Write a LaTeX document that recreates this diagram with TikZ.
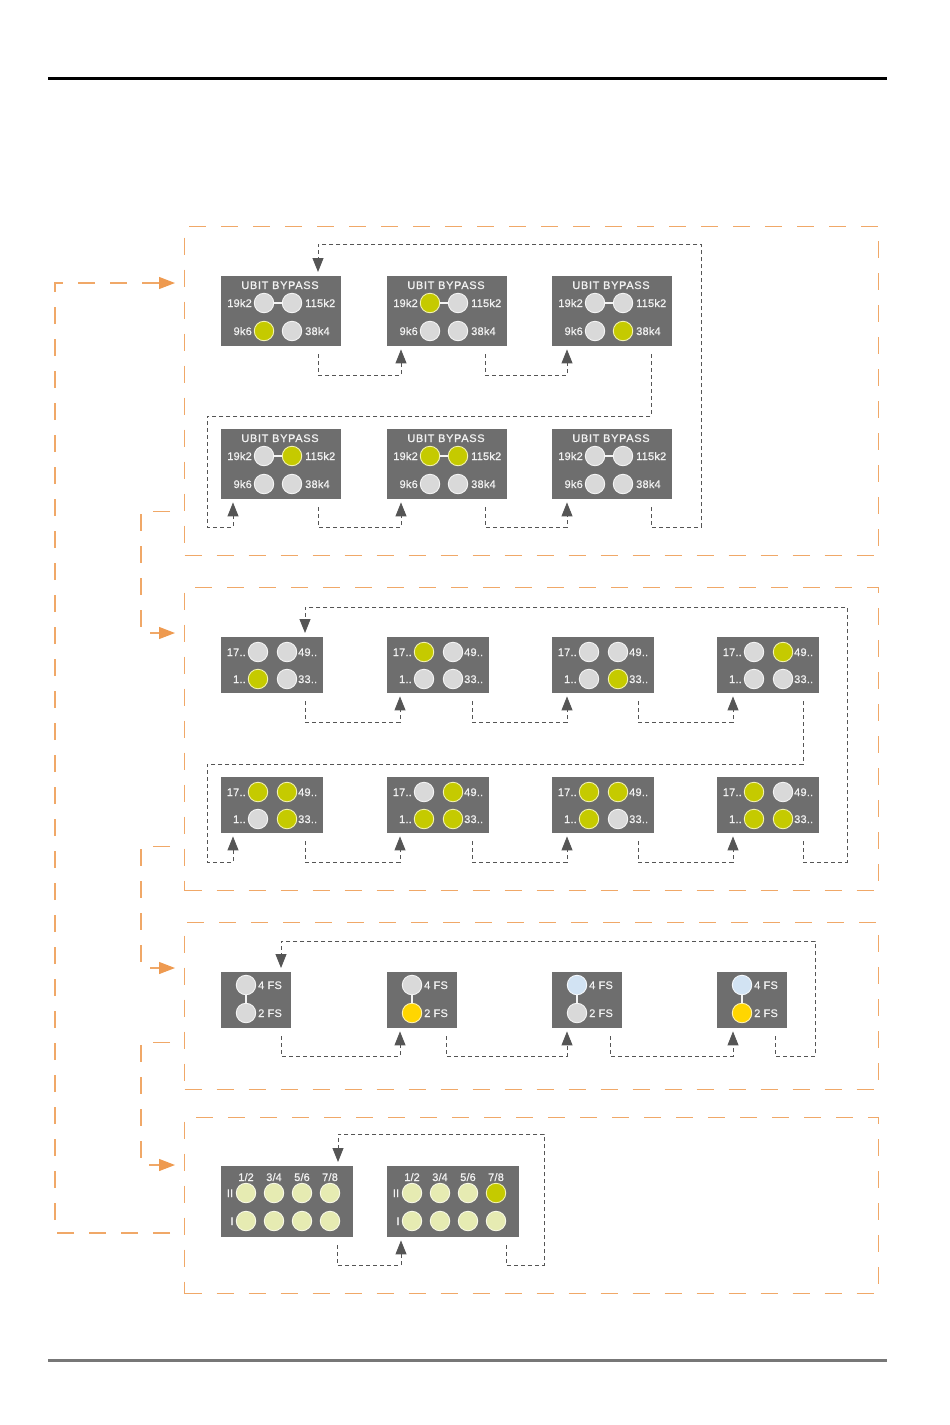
\documentclass[tikz,border=0pt]{standalone}
\usepackage{fontspec}
\setmainfont{Liberation Sans}
\newfontfamily\lblfont[FakeBold=0.6,LetterSpace=2]{Liberation Sans}
\newfontfamily\titlefont[FakeBold=0.6,LetterSpace=6]{Liberation Sans}
\usetikzlibrary{arrows.meta,calc}
\definecolor{panelgray}{HTML}{6E6E6E}
\definecolor{txtcol}{HTML}{F2F2F2}
\definecolor{conncol}{HTML}{555555}
\definecolor{orline}{HTML}{F0A868}
\definecolor{orhead}{HTML}{EE9A50}
\definecolor{ledf0}{HTML}{D9D9D9}
\definecolor{ledr0}{HTML}{F4F4F4}
\definecolor{ledf1}{HTML}{C5CA00}
\definecolor{ledr1}{HTML}{F2F2B0}
\definecolor{ledf2}{HTML}{FFD600}
\definecolor{ledr2}{HTML}{FFF3B0}
\definecolor{ledf3}{HTML}{D2E3F3}
\definecolor{ledr3}{HTML}{F4F8FC}
\definecolor{ledf4}{HTML}{E6EBB2}
\definecolor{ledr4}{HTML}{F8F9E6}
\begin{document}
\begin{tikzpicture}[x=1pt,y=-1pt,
  panel/.style={fill=panelgray,draw=none,inner sep=0,anchor=north west},
  led/.style={circle,inner sep=0,minimum size=19.5pt,line width=0.9pt},
  lbl/.style={text=txtcol,font=\lblfont\fontsize{11}{13}\selectfont,inner sep=0,text height=8pt,text depth=0pt},
  ttl/.style={lbl,font=\titlefont\fontsize{11}{13}\selectfont},
  link/.style={draw=ledr0,line width=1.4pt},
  conn/.style={draw=conncol,line width=0.9pt,dash pattern=on 4pt off 3pt},
  arr/.style={-{Triangle[length=14pt,width=11pt,color=conncol]}},
  section/.style={draw=orline,line width=1.2pt,dash pattern=on 17pt off 15pt,anchor=north west,inner sep=0,minimum width=694pt},
  oconn/.style={draw=orline,line width=1.2pt,dash pattern=on 17pt off 15pt},
  oarr/.style={-{Triangle[length=16pt,width=12pt,color=orhead]}}
]
\useasboundingbox (0,0) rectangle (950,1425);

% rules
\draw[line width=3pt,black] (48,78) -- (887,78);
\draw[line width=3pt,color={rgb,255:red,119;green,119;blue,119}] (48,1360) -- (887,1360);

% sections
\node[section,minimum height=329pt] (sec1) at (184,226) {};
\node[section,minimum height=303pt] (sec2) at (184,587) {};
\node[section,minimum height=167pt] (sec3) at (184,922) {};
\node[section,minimum height=176pt] (sec4) at (184,1117) {};

% ---------- section 1 ----------
\foreach \i/\L/\T/\a/\b/\c/\d in {1/221/276/0/0/1/0, 2/387/276/1/0/0/0, 3/552/276/0/0/0/1,
                                 4/221/429/0/1/0/0, 5/387/429/1/1/0/0, 6/552/429/0/0/0/0} {
  \node[panel,minimum width=120pt,minimum height=70pt] (s1b\i) at (\L,\T) {};
  \node[ttl] (s1b\i-t) at (\L+59,\T+9) {UBIT BYPASS};
  \node[led,fill=ledf\a,draw=ledr\a] (s1b\i-a) at (\L+43,\T+27) {};
  \node[led,fill=ledf\b,draw=ledr\b] (s1b\i-b) at (\L+71,\T+27) {};
  \node[led,fill=ledf\c,draw=ledr\c] (s1b\i-c) at (\L+43,\T+55) {};
  \node[led,fill=ledf\d,draw=ledr\d] (s1b\i-d) at (\L+71,\T+55) {};
  \draw[link] (s1b\i-a.east) -- (s1b\i-b.west);
  \node[lbl,anchor=east] (s1b\i-la) at (\L+31,\T+27) {19k2};
  \node[lbl,anchor=west] (s1b\i-lb) at (\L+84,\T+27) {115k2};
  \node[lbl,anchor=east] (s1b\i-lc) at (\L+31,\T+55) {9k6};
  \node[lbl,anchor=west] (s1b\i-ld) at (\L+84,\T+55) {38k4};
}
\draw[conn,arr] ([shift={(-23,8)}]s1b1.south east) -- ++(0,21) -| ([shift={(14,3)}]s1b2.south west);
\draw[conn,arr] ([shift={(-22,8)}]s1b2.south east) -- ++(0,21) -| ([shift={(15,3)}]s1b3.south west);
\draw[conn,arr] ([shift={(-21,8)}]s1b3.south east) -- ++(0,62) -- ++(-444,0) -- ++(0,111) -| ([shift={(12,3)}]s1b4.south west);
\draw[conn,arr] ([shift={(-23,8)}]s1b4.south east) -- ++(0,20) -| ([shift={(14,3)}]s1b5.south west);
\draw[conn,arr] ([shift={(-22,8)}]s1b5.south east) -- ++(0,20) -| ([shift={(15,3)}]s1b6.south west);
\draw[conn,arr] ([shift={(-21,8)}]s1b6.south east) -- ++(0,20) -- ++(50,0) -- ++(0,-283) -| ([shift={(97,-4)}]s1b1.north west);

% ---------- section 2 ----------
\foreach \i/\L/\T/\a/\b/\c/\d in {1/221/637/0/0/1/0, 2/387/637/1/0/0/0, 3/552/637/0/0/0/1, 4/717/637/0/1/0/0,
                                 5/221/777/1/1/0/1, 6/387/777/0/1/1/1, 7/552/777/1/1/1/0, 8/717/777/1/0/1/1} {
  \node[panel,minimum width=102pt,minimum height=56pt] (s2b\i) at (\L,\T) {};
  \node[led,fill=ledf\a,draw=ledr\a] (s2b\i-a) at (\L+37,\T+15) {};
  \node[led,fill=ledf\b,draw=ledr\b] (s2b\i-b) at (\L+66,\T+15) {};
  \node[led,fill=ledf\c,draw=ledr\c] (s2b\i-c) at (\L+37,\T+42) {};
  \node[led,fill=ledf\d,draw=ledr\d] (s2b\i-d) at (\L+66,\T+42) {};
  \node[lbl,anchor=east] (s2b\i-la) at (\L+25,\T+15) {17..};
  \node[lbl,anchor=west] (s2b\i-lb) at (\L+77,\T+15) {49..};
  \node[lbl,anchor=east] (s2b\i-lc) at (\L+25,\T+42) {1..};
  \node[lbl,anchor=west] (s2b\i-ld) at (\L+77,\T+42) {33..};
}
\draw[conn,arr] ([shift={(-18,8)}]s2b1.south east) -- ++(0,21) -| ([shift={(13,3)}]s2b2.south west);
\draw[conn,arr] ([shift={(-17,8)}]s2b2.south east) -- ++(0,21) -| ([shift={(15,3)}]s2b3.south west);
\draw[conn,arr] ([shift={(-16,8)}]s2b3.south east) -- ++(0,21) -| ([shift={(16,3)}]s2b4.south west);
\draw[conn,arr] ([shift={(-16,8)}]s2b4.south east) -- ++(0,63) -- ++(-596,0) -- ++(0,98) -| ([shift={(12,3)}]s2b5.south west);
\draw[conn,arr] ([shift={(-18,8)}]s2b5.south east) -- ++(0,21) -| ([shift={(13,3)}]s2b6.south west);
\draw[conn,arr] ([shift={(-17,8)}]s2b6.south east) -- ++(0,21) -| ([shift={(15,3)}]s2b7.south west);
\draw[conn,arr] ([shift={(-16,8)}]s2b7.south east) -- ++(0,21) -| ([shift={(16,3)}]s2b8.south west);
\draw[conn,arr] ([shift={(-16,8)}]s2b8.south east) -- ++(0,21) -- ++(44,0) -- ++(0,-255) -| ([shift={(84,-4)}]s2b1.north west);

% ---------- section 3 ----------
\foreach \i/\L/\a/\b in {1/221/0/0, 2/387/0/2, 3/552/3/0, 4/717/3/2} {
  \node[panel,minimum width=70pt,minimum height=56pt] (s3b\i) at (\L,972) {};
  \node[led,fill=ledf\a,draw=ledr\a] (s3b\i-a) at (\L+25,985) {};
  \node[led,fill=ledf\b,draw=ledr\b] (s3b\i-b) at (\L+25,1013) {};
  \draw[link] (s3b\i-a.south) -- (s3b\i-b.north);
  \node[lbl,anchor=west] (s3b\i-la) at (\L+37,985) {4 FS};
  \node[lbl,anchor=west] (s3b\i-lb) at (\L+37,1013) {2 FS};
}
\draw[conn,arr] ([shift={(-10,8)}]s3b1.south east) -- ++(0,20) -| ([shift={(13,3)}]s3b2.south west);
\draw[conn,arr] ([shift={(-11,8)}]s3b2.south east) -- ++(0,20) -| ([shift={(15,3)}]s3b3.south west);
\draw[conn,arr] ([shift={(-12,8)}]s3b3.south east) -- ++(0,20) -| ([shift={(16,3)}]s3b4.south west);
\draw[conn,arr] ([shift={(-12,8)}]s3b4.south east) -- ++(0,20) -- ++(40,0) -- ++(0,-115) -| ([shift={(60,-4)}]s3b1.north west);

% ---------- section 4 ----------
\foreach \i/\L/\h in {1/221/4, 2/387/1} {
  \node[panel,minimum width=132pt,minimum height=71pt] (s4b\i) at (\L,1166) {};
  \foreach \k/\t in {0/1\slash 2,1/3\slash 4,2/5\slash 6} {
    \node[lbl] (s4b\i-h\k) at (\L+25+28*\k,1177) {\t};
    \node[led,fill=ledf4,draw=ledr4] (s4b\i-u\k) at (\L+25+28*\k,1193) {};
    \node[led,fill=ledf4,draw=ledr4] (s4b\i-d\k) at (\L+25+28*\k,1221) {};
  }
  \node[lbl] (s4b\i-h3) at (\L+109,1177) {7/8};
  \node[led,fill=ledf\h,draw=ledr\h] (s4b\i-u3) at (\L+109,1193) {};
  \node[led,fill=ledf4,draw=ledr4] (s4b\i-d3) at (\L+109,1221) {};
  \node[lbl] (s4b\i-II) at (\L+9,1193) {II};
  \node[lbl] (s4b\i-I) at (\L+11,1221) {I};
}
\draw[conn,arr] ([shift={(-16,8)}]s4b1.south east) -- ++(0,20) -| ([shift={(14,3)}]s4b2.south west);
\draw[conn,arr] ([shift={(-13,8)}]s4b2.south east) -- ++(0,20) -- ++(38,0) -- ++(0,-131) -| ([shift={(117,-4)}]s4b1.north west);

% ---------- orange loop arrows ----------
\draw[oconn,oarr] ([shift={(-14,116)}]sec4.north west) -| ([shift={(-129,57)}]sec1.north west) -- ([shift={(-9,57)}]sec1.north west);
\draw[oconn,oarr] ([shift={(-14,-45)}]sec1.south west) -- ++(-29,0) |- ([shift={(-9,46)}]sec2.north west);
\draw[oconn,oarr] ([shift={(-14,-45)}]sec2.south west) -- ++(-29,0) |- ([shift={(-9,46)}]sec3.north west);
\draw[oconn,oarr] ([shift={(-14,-48)}]sec3.south west) -- ++(-29,0) |- ([shift={(-9,48)}]sec4.north west);
\end{tikzpicture}
\end{document}
